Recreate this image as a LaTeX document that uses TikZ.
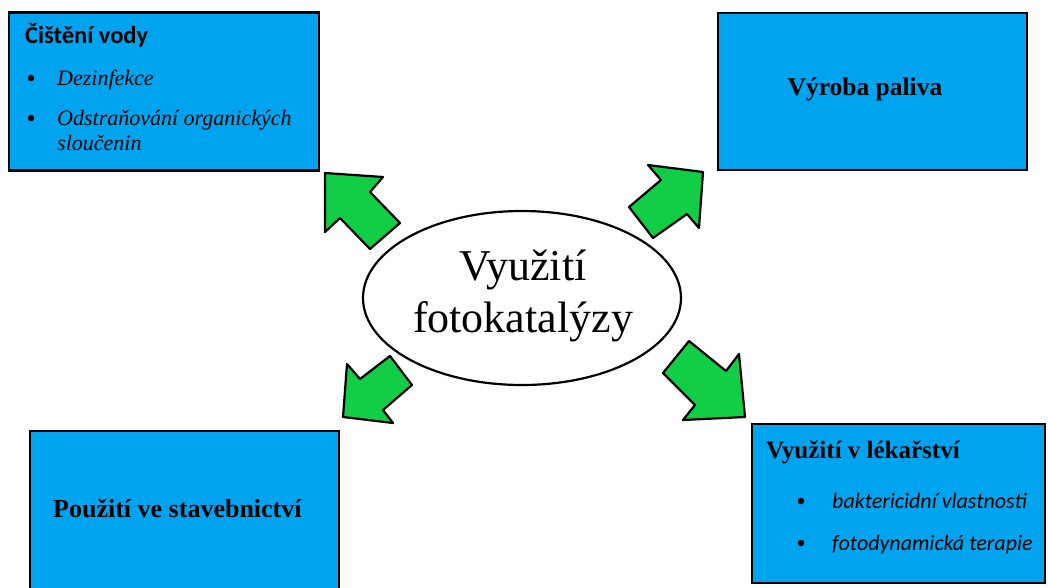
\documentclass[tikz,border=0pt]{standalone}
\usepackage{fontspec}
\setmainfont{Liberation Serif}
\newfontfamily\carl{Carlito}
\usetikzlibrary{shapes.geometric}
\definecolor{boxblue}{RGB}{0,164,238}
\definecolor{arrgreen}{RGB}{18,206,70}
\tikzset{
  box/.style={draw=black, line width=2.8pt, fill=boxblue, rectangle, inner sep=0pt},
  blockarrow/.style={draw=black, line width=2.2pt, fill=arrgreen, line join=round},
  bul/.style={circle, fill=black, inner sep=0pt, minimum size=6.5pt},
  txt/.style={inner sep=0pt, anchor=base west},
}
\begin{document}
\begin{tikzpicture}[x=1pt,y=-1pt]
\useasboundingbox[fill=white] (0,0) rectangle (1048,587);
\begin{scope}
\clip (0,0) rectangle (1048,587);
% boxes
\node[box, minimum width=310pt, minimum height=158pt] (tl) at (164,91.5) {};
\node[box, minimum width=309pt, minimum height=157pt] (tr) at (872.5,91.5) {};
\node[box, minimum width=309pt, minimum height=175pt] (bl) at (184.5,518.5) {};
\node[box, minimum width=293pt, minimum height=159pt] (br) at (898.5,503.5) {};
\end{scope}
% top-left text
\node[txt] (tlh) at (25,43) {\carl\bfseries\fontsize{24.5}{29}\selectfont Čištění vody};
\node[bul] (tlb1) at (31,78) {};
\node[txt] (tli1) at (57,85) {\itshape\fontsize{22}{26}\selectfont Dezinfekce};
\node[bul] (tlb2) at (31,118) {};
\node[txt] (tli2) at (57,125) {\itshape\fontsize{22}{26}\selectfont Odstraňování organických};
\node[txt] (tli3) at (57,150) {\itshape\fontsize{22}{26}\selectfont sloučenin};
% top-right text
\node[inner sep=0pt] (trt) at (865,89) {\bfseries\fontsize{25.5}{30}\selectfont Výroba paliva};
% bottom-left text
\node[txt] (blt) at (53,517) {\bfseries\fontsize{26}{30}\selectfont Použití ve stavebnictví};
% bottom-right text
\node[txt] (brh) at (766,458) {\bfseries\fontsize{25}{30}\selectfont Využití v lékařství};
\node[bul] (brb1) at (801,501) {};
\node[txt] (bri1) at (832,508) {\carl\itshape\fontsize{22}{26}\selectfont baktericidní vlastnosti};
\node[bul] (brb2) at (801,543) {};
\node[txt] (bri2) at (832,550) {\carl\itshape\fontsize{22}{26}\selectfont fotodynamická terapie};
% centre ellipse
\node[draw=black, line width=2.2pt, ellipse, fill=white, minimum width=318pt, minimum height=174pt, inner sep=0pt] (c) at (522,298) {};
\node[inner sep=0pt, align=center, font=\fontsize{44}{52}\selectfont] (ct) at (523,296) {Využití\\fotokatalýzy};
% block arrows
\draw[blockarrow] (325,173) -- (383,177) -- (370,192) -- (400,223) -- (370,249) -- (340,218) -- (325,232) -- cycle;
\draw[blockarrow] (703,172) -- (699,228) -- (687,214) -- (653,238) -- (629,207) -- (661,180) -- (648,165) -- cycle;
\draw[blockarrow] (343,417) -- (347,364) -- (360,379) -- (390,356) -- (412,385) -- (383,410) -- (393,423) -- cycle;
\draw[blockarrow] (745,417) -- (683,420) -- (695,405) -- (663,373) -- (689,341) -- (726,371) -- (739,354) -- cycle;
\end{tikzpicture}
\end{document}
